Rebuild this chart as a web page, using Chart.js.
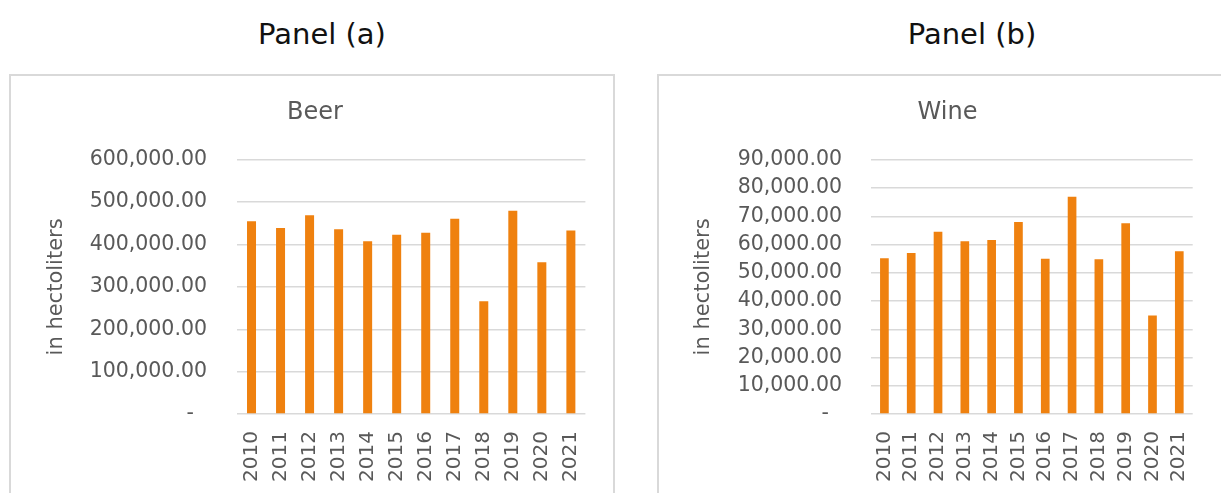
<!DOCTYPE html>
<html>
<head>
<meta charset="utf-8">
<script src="https://cdn.jsdelivr.net/npm/chart.js@4"></script>
<style>
  html, body { margin: 0; padding: 0; background: #fff; overflow: hidden; }
  body { width: 1221px; height: 493px; position: relative; font-family: 'DejaVu Sans', Verdana, sans-serif; }
  .heading { position: absolute; top: 20px; width: 300px; text-align: center; font-size: 29px; line-height: 29px; color: #111; }
  .box { position: absolute; top: 74px; height: 440px; border: 2px solid #d9d9d9; border-bottom: none; }
  canvas { position: absolute; top: 76px; }
</style>
</head>
<body>
  <div class="heading" style="left:172px">Panel (a)</div>
  <div class="heading" style="left:822px">Panel (b)</div>
  <div class="box" style="left:9px; width:602px"></div>
  <div class="box" style="left:657px; width:600px"></div>
  <canvas id="beer" width="602" height="417" style="left:11px"></canvas>
  <canvas id="wine" width="562" height="417" style="left:659px"></canvas>
<script>
// values, in hectoliters
const years = ['2010', '2011', '2012', '2013', '2014', '2015', '2016', '2017', '2018', '2019', '2020', '2021'];
const beerValues = [455000, 439000, 469000, 436000, 408000, 423000, 428000, 461000, 266000, 480000, 358000, 433000];
const wineValues = [55100, 57000, 64500, 61200, 61600, 68000, 55000, 76900, 54800, 67500, 34900, 57600];
const beerAxis = { max: 600000, step: 100000 };
const wineAxis = { max: 90000, step: 10000 };

const orange = '#ef810f';
const textGrey = '#595959';
const gridGrey = '#d9d9d9';

Chart.defaults.font.family = "'DejaVu Sans', Verdana, sans-serif";
Chart.defaults.color = textGrey;

// excel accounting style: 600,000.00 and a dash for zero
function formatTick(value) {
  if (value === 0) return '-  ';
  const parts = value.toFixed(2).split('.');
  parts[0] = parts[0].replace(/\B(?=(\d{3})+(?!\d))/g, ',');
  return parts.join('.');
}

function makeChart(id, title, values, axis, layout) {
  const ctx = document.getElementById(id).getContext('2d');
  return new Chart(ctx, {
    type: 'bar',
    data: {
      labels: years,
      datasets: [{
        data: values,
        backgroundColor: orange,
        categoryPercentage: 1,
        barPercentage: layout.bar
      }]
    },
    options: {
      responsive: false,
      animation: false,
      layout: { padding: { left: layout.left, right: layout.right, top: 0, bottom: 0 } },
      plugins: {
        legend: { display: false },
        tooltip: { enabled: false },
        title: {
          display: true,
          text: title,
          color: textGrey,
          font: { size: 24, weight: 'normal' },
          padding: { top: 22, bottom: 33 }
        }
      },
      scales: {
        x: {
          grid: { display: false, drawTicks: false },
          border: { display: false },
          ticks: { minRotation: 90, maxRotation: 90, padding: 17, color: textGrey, font: { size: 20 } },
          afterFit: (scale) => { scale.height = 79; }
        },
        y: {
          min: 0,
          max: axis.max,
          grid: { color: gridGrey, lineWidth: 1.5, drawTicks: false },
          border: { display: false },
          ticks: { stepSize: axis.step, padding: layout.tickPad, color: textGrey, font: { size: 20.5 }, callback: formatTick },
          title: { display: true, text: 'in hectoliters', color: textGrey, font: { size: 21 }, padding: 0 },
          afterFit: (scale) => { scale.width = layout.axisWidth; }
        }
      }
    }
  });
}

makeChart('beer', 'Beer', beerValues, beerAxis, { left: 33, right: 27, axisWidth: 193, tickPad: 30, bar: 0.31 });
makeChart('wine', 'Wine', wineValues, wineAxis, { left: 32, right: 17, axisWidth: 180, tickPad: 29, bar: 0.324 });
</script>
</body>
</html>
